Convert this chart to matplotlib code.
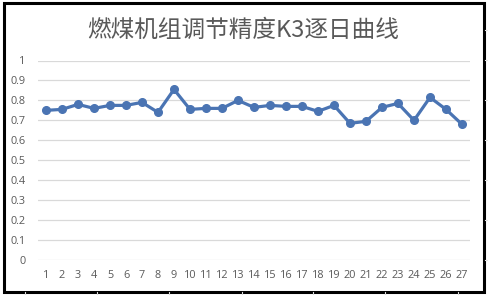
import matplotlib
matplotlib.use("Agg")
import matplotlib.pyplot as plt
from matplotlib.patches import Rectangle
from matplotlib.lines import Line2D

days = list(range(1, 28))
k3 = [0.75, 0.755, 0.78, 0.76, 0.775, 0.775, 0.79, 0.74, 0.855, 0.755,
      0.76, 0.76, 0.80, 0.765, 0.775, 0.77, 0.77, 0.745, 0.775, 0.685,
      0.695, 0.765, 0.785, 0.70, 0.815, 0.755, 0.68]
yticks = [0, 0.1, 0.2, 0.3, 0.4, 0.5, 0.6, 0.7, 0.8, 0.9, 1]
ytick_labels = ["0", "0.1", "0.2", "0.3", "0.4", "0.5", "0.6", "0.7", "0.8", "0.9", "1"]
title = "燃煤机组调节精度K3逐日曲线"

W, H = 488, 295
fig = plt.figure(figsize=(W / 100, H / 100), dpi=100)
fig.patch.set_facecolor("white")

# faint spreadsheet cell lines outside the chart frame
for xp in [25, 97, 169, 242, 313, 385, 458]:
    fig.add_artist(Line2D([xp / W, xp / W], [0, 3 / H], color="#d9d9d9", lw=0.8))
for yp in [30, 60, 100, 140, 180, 220, 260]:
    fig.add_artist(Line2D([485 / W, 1], [1 - yp / H, 1 - yp / H], color="#e3e3e3", lw=0.8))

# chart frame
fig.add_artist(Rectangle((3.5 / W, 1 - 291.5 / H), 480 / W, 289 / H,
                         fill=False, edgecolor="black", lw=2.2))

ax = fig.add_axes([38 / W, 1 - 260 / H, (470 - 38) / W, 199.5 / H])
ax.set_facecolor("white")
ax.plot(days, k3, color="#4a74b3", lw=2.3, marker="o", ms=5.5,
        markerfacecolor="#4a74b3", markeredgecolor="#4a74b3", solid_joinstyle="round")
ax.set_xlim(0.5, 27.5)
ax.set_ylim(0, 1)
ax.set_yticks(yticks)
ax.set_yticklabels(ytick_labels)
ax.set_xticks(days)
ax.set_xticklabels([str(d) for d in days])
ax.grid(axis="y", color="#d9d9d9", lw=0.9)
ax.set_axisbelow(True)
for s in ax.spines.values():
    s.set_visible(False)
ax.tick_params(axis="both", length=0, labelsize=7.8, colors="#595959")
ax.tick_params(axis="y", pad=9)
ax.tick_params(axis="x", pad=7)
for lab in ax.get_xticklabels() + ax.get_yticklabels():
    lab.set_fontfamily(["Open Sans", "DejaVu Sans"])

fig.text(243 / W, 1 - 30 / H, title, ha="center", va="center", fontsize=17,
         color="#595959", family=["Noto Sans CJK SC", "DejaVu Sans"])

fig.savefig("out.png", dpi=100)
